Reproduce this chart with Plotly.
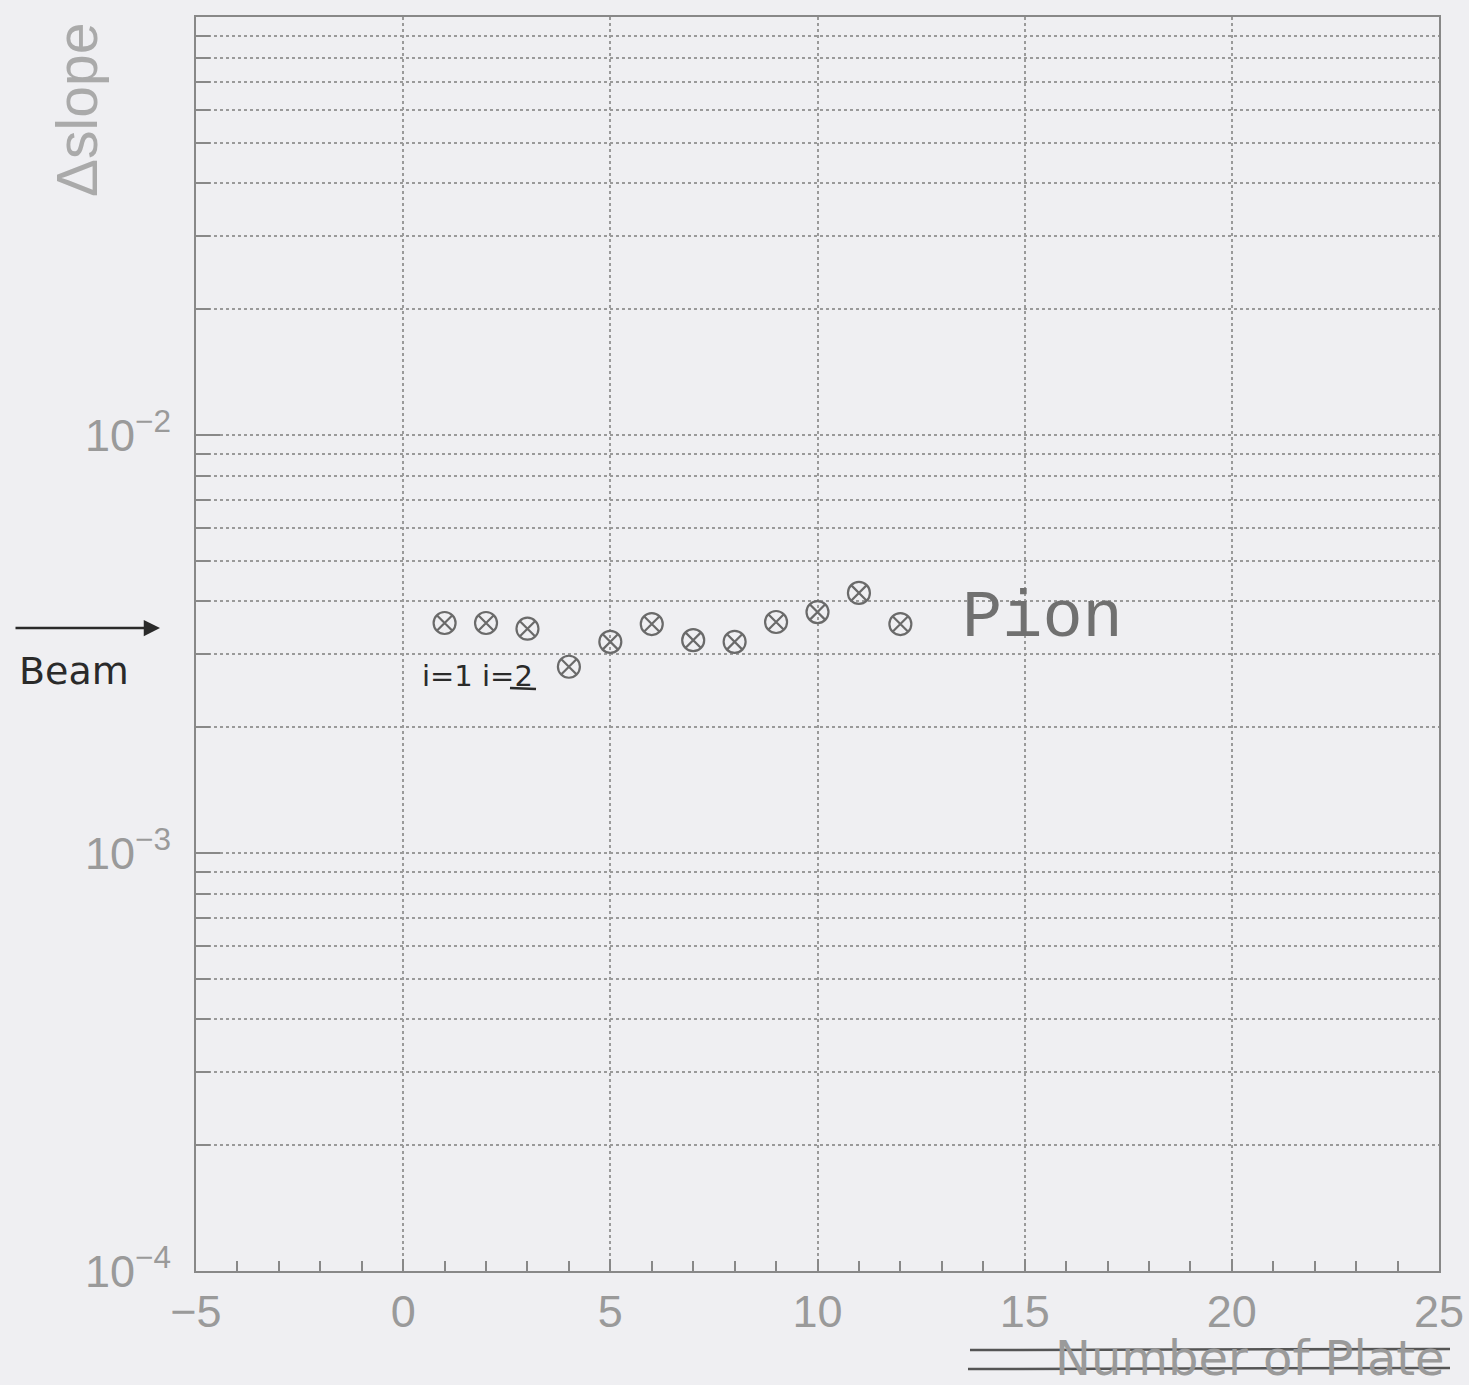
import plotly.graph_objects as go

# Data
plates = [1, 2, 3, 4, 5, 6, 7, 8, 9, 10, 11, 12]
dslope = [0.00355, 0.00355, 0.00344, 0.00279, 0.00320, 0.00353,
          0.00323, 0.00320, 0.00357, 0.00377, 0.00419, 0.00353]

x_range = [-5, 25]
x_tick_vals = [-5, 0, 5, 10, 15, 20, 25]
decades = [-4, -3, -2, -1]
y_major_vals = [1e-4, 1e-3, 1e-2]
y_major_text = ["10<sup>−4</sup>", "10<sup>−3</sup>", "10<sup>−2</sup>"]
y_minor_vals = [m * 10.0 ** d for d in decades[:-1] for m in range(2, 10)]

BG = "#efeff2"
L, R, T, B = 196, 30, 17, 114
W, H = 1469, 1385
PW, PH = W - L - R, H - T - B

def px(xp):
    return (xp - L) / PW

def py(yp):
    return (H - B - yp) / PH

fig = go.Figure()
fig.add_trace(go.Scatter(
    x=plates, y=dslope, mode="markers",
    marker=dict(symbol="circle-x-open", size=22, color="#6a6a6a",
                line=dict(width=2.2, color="#6a6a6a")),
    showlegend=False,
))

tickfont = dict(family="Liberation Sans", size=45, color="#9a9a9a")

fig.update_xaxes(
    range=x_range, tickvals=x_tick_vals, ticks="inside", ticklen=12,
    tickcolor="#888", tickwidth=1.5,
    minor=dict(dtick=1, ticks="inside", ticklen=10, tickcolor="#888",
               tickwidth=1.5, showgrid=False),
    showgrid=True, gridcolor="#9a9a9a", griddash="dot", gridwidth=1.5,
    showline=True, linecolor="#888", linewidth=2, mirror=True,
    tickfont=tickfont, zeroline=False, ticklabelstandoff=0,
    automargin=False,
)
fig.update_yaxes(
    type="log", range=[-4, -1], tickvals=y_major_vals, ticktext=y_major_text,
    ticks="inside", ticklen=24, tickcolor="#888", tickwidth=1.5,
    minor=dict(tickvals=y_minor_vals, ticks="inside", ticklen=14,
               tickcolor="#888", tickwidth=1.5, showgrid=True,
               gridcolor="#9a9a9a", griddash="dot", gridwidth=1.5),
    showgrid=True, gridcolor="#9a9a9a", griddash="dot", gridwidth=1.5,
    showline=True, linecolor="#888", linewidth=2, mirror=True,
    tickfont=tickfont, ticklabelstandoff=14, automargin=False,
)

annotations = [
    dict(text="Δslope", x=px(77), y=py(110), xref="paper", yref="paper",
         xanchor="center", yanchor="middle",
         textangle=-90, showarrow=False,
         font=dict(family="Liberation Sans", size=57, color="#aaaaaa")),
    dict(text="Pion", x=px(960), y=py(618), xref="paper", yref="paper",
         xanchor="left", yanchor="middle", showarrow=False,
         font=dict(family="Liberation Mono", size=67, color="#707070")),
    dict(text="Beam", x=px(74), y=py(671), xref="paper", yref="paper",
         xanchor="center", yanchor="middle", showarrow=False,
         font=dict(family="DejaVu Sans", size=38, color="#2a2a2a")),
    dict(text="", x=px(160), y=py(628), xref="paper", yref="paper",
         ax=-146, ay=0, axref="pixel", ayref="pixel", showarrow=True,
         arrowhead=2, arrowsize=1.3, arrowwidth=2.5, arrowcolor="#2a2a2a"),
    dict(text="i=1 i=2", x=px(477), y=py(676), xref="paper", yref="paper",
         xanchor="center", yanchor="middle", showarrow=False,
         font=dict(family="DejaVu Sans", size=29, color="#2a2a2a")),
    dict(text="Number of Plate", x=px(1446), y=py(1358), xref="paper",
         yref="paper", xanchor="right", yanchor="middle", showarrow=False,
         borderpad=0,
         font=dict(family="DejaVu Sans", size=48, color="#9a9a9a")),
]

shapes = [
    dict(type="line", xref="paper", yref="paper", x0=px(970), x1=px(1450),
         y0=py(1350), y1=py(1349), line=dict(color="#555", width=2.5)),
    dict(type="line", xref="paper", yref="paper", x0=px(968), x1=px(1450),
         y0=py(1369), y1=py(1368), line=dict(color="#555", width=2.5)),
    dict(type="line", xref="paper", yref="paper", x0=px(510), x1=px(536),
         y0=py(688), y1=py(689), line=dict(color="#2a2a2a", width=2.5)),
]

fig.update_layout(
    width=W, height=H, margin=dict(l=L, r=R, t=T, b=B),
    paper_bgcolor=BG, plot_bgcolor=BG,
    annotations=annotations, shapes=shapes, showlegend=False,
)

fig.write_html("out.html")
